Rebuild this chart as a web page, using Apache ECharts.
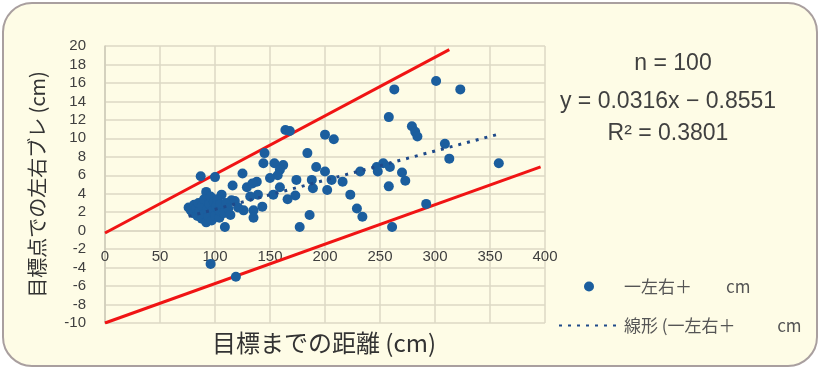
<!DOCTYPE html>
<html>
<head>
<meta charset="utf-8">
<script src="https://cdn.jsdelivr.net/npm/echarts@6/dist/echarts.min.js"></script>
<style>
html,body{margin:0;padding:0;background:#ffffff;}
#frame{position:absolute;left:2px;top:2px;width:816px;height:365px;box-sizing:border-box;border:2px solid #a99f9f;border-radius:30px;background:#fefce6;}
#chart{position:absolute;left:0;top:0;width:820px;height:369px;}
</style>
</head>
<body>
<div id="frame"></div>
<div id="chart"></div>
<script>
// Data
const distX = [301,323,263,258,279,282,284,309,313,358,200,208,184,164,168,192,200,232,247,253,259,248,270,273,258,223,216,206,202,189,188,174,173,166,229,234,186,177,261,292,162,154,145,144,159,157,150,159,138,153,139,132,129,125,116,143,135,126,135,115,106,100,87,92,109,96,119,134,
76,78,80,81,83,84,85,86,88,88,90,90,92,93,94,95,96,97,98,99,100,101,102,104,104,105,108,110,112,114,118,121];
const shiftY = [16.2,15.3,15.3,12.3,11.3,10.7,10.2,9.4,7.8,7.3,10.4,9.9,8.4,10.9,10.8,6.9,6.4,6.4,6.9,7.3,6.9,6.4,6.3,5.4,4.8,3.9,5.3,5.5,4.4,4.6,5.5,5.5,3.8,3.4,2.4,1.5,1.7,0.4,0.4,2.9,7.1,7.3,8.4,7.3,6.6,6.0,5.7,4.7,5.3,3.9,3.9,3.7,4.7,6.2,4.9,2.6,2.2,2.2,1.4,3.3,3.9,5.8,5.9,4.2,0.4,-3.6,-5.0,5.1,
2.5,2.2,1.9,2.8,2.4,1.6,3.0,2.1,1.3,2.7,1.8,3.4,0.9,2.3,1.5,2.9,3.7,1.1,2.2,3.1,1.6,2.6,3.4,1.4,2.2,2.9,1.9,3.0,2.4,1.7,3.2,2.5];
const upperBound = [[0,-0.25],[313,19.6]];
const lowerBound = [[0,-10],[396,6.9]];
const trendLine = [[76,1.55],[358,10.46]];
const statsText = ['n = 100','y = 0.0316x \u2212 0.8551','R\u00B2 = 0.3801'];
const seriesName = '一左右＋　　cm';
const trendName = '線形 (一左右＋　　  cm';
const xTitle = '目標までの距離 (cm)';
const yTitle = '目標点での左右ブレ (cm)';

const points = distX.map((x,i)=>[x, shiftY[i]]);
const gridColor = '#dcd8c4';
const numFont = '"Liberation Sans", "Noto Sans CJK JP", sans-serif';
const jpFont = '"Noto Sans CJK JP", sans-serif';

const chart = echarts.init(document.getElementById('chart'), null, {renderer:'canvas'});
chart.setOption({
  backgroundColor: 'transparent',
  animation: false,
  grid: {left:105, top:46, width:440, height:277, containLabel:false},
  xAxis: {
    type:'value', min:0, max:400, interval:50,
    position:'bottom', offset:-92.33,
    axisLine:{show:true, onZero:false, lineStyle:{color:gridColor, width:1.5}},
    axisTick:{show:false},
    axisLabel:{margin:19, fontSize:15, color:'#3f3f3f', fontFamily:numFont},
    splitLine:{show:true, lineStyle:{color:gridColor, width:1.5}}
  },
  yAxis: {
    type:'value', min:-10, max:20, interval:2,
    name: yTitle, nameLocation:'middle', nameGap:58, nameRotate:90,
    nameTextStyle:{fontFamily:jpFont, fontSize:20, color:'#333'},
    axisLine:{show:true, lineStyle:{color:'#cfcbb8', width:1.5}},
    axisTick:{show:false},
    axisLabel:{margin:19, fontSize:15, color:'#3f3f3f', fontFamily:numFont},
    splitLine:{show:true, lineStyle:{color:gridColor, width:1.5}}
  },
  legend: {
    data:[seriesName, {name:trendName, itemStyle:{opacity:0}}],
    orient:'vertical', left:558, top:278, padding:0,
    itemWidth:60, itemHeight:10, itemGap:22,
    textStyle:{fontFamily:jpFont, fontSize:17, color:'#555'}
  },
  series: [
    {type:'line', data:upperBound, symbol:'none', silent:true, lineStyle:{color:'#f01414', width:3}, z:3},
    {type:'line', data:lowerBound, symbol:'none', silent:true, lineStyle:{color:'#f01414', width:3}, z:3},
    {name:seriesName, type:'scatter', data:points, symbol:'circle', symbolSize:10, itemStyle:{color:'#1b5e9e', opacity:1}, z:4},
    {name:trendName, type:'line', data:trendLine, symbol:'none', lineStyle:{color:'#1f4a8a', width:3, type:[3,6]}, z:5}
  ],
  graphic: [
    {type:'text', style:{text:statsText[0], x:673, y:64, align:'center', verticalAlign:'middle', font:'23px '+numFont, fill:'#404040'}},
    {type:'text', style:{text:statsText[1], x:668, y:102, align:'center', verticalAlign:'middle', font:'23px '+numFont, fill:'#404040'}},
    {type:'text', style:{text:statsText[2], x:668, y:134, align:'center', verticalAlign:'middle', font:'23px '+numFont, fill:'#404040'}},
    {type:'text', style:{text:xTitle, x:324, y:343, align:'center', verticalAlign:'middle', font:'24px '+jpFont, fill:'#333'}}
  ]
});
</script>
</body>
</html>
